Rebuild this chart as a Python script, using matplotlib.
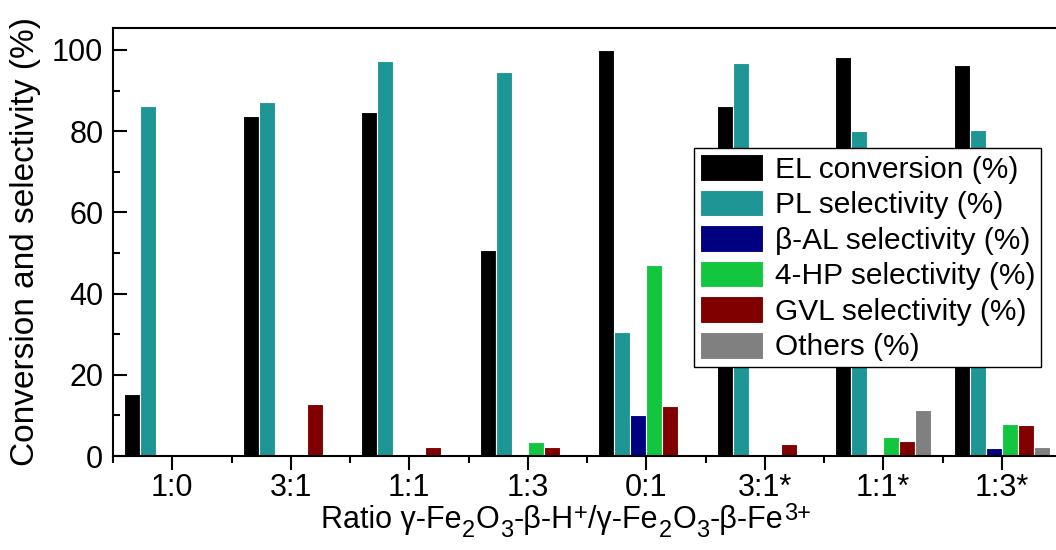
import matplotlib
matplotlib.use("Agg")
import matplotlib.pyplot as plt
import numpy as np
from matplotlib.ticker import MultipleLocator

plt.rcParams['font.family'] = ['Liberation Sans', 'DejaVu Sans']

categories = ["1:0", "3:1", "1:1", "1:3", "0:1", "3:1*", "1:1*", "1:3*"]
series_names = ["EL conversion (%)", "PL selectivity (%)", "β-AL selectivity (%)",
                "4-HP selectivity (%)", "GVL selectivity (%)", "Others (%)"]
el_conv = [15.3, 83.8, 84.8, 50.8, 100.0, 86.2, 98.2, 96.2]
pl_sel = [86.2, 87.2, 97.2, 94.6, 30.5, 96.8, 80.0, 80.4]
bal_sel = [0, 0, 0, 0, 10.0, 0, 0, 1.9]
hp_sel = [0, 0, 0.5, 3.4, 47.0, 0, 4.7, 7.8]
gvl_sel = [0, 12.9, 2.2, 2.1, 12.3, 3.0, 3.7, 7.6]
others = [0, 0, 0, 0, 0, 0, 11.3, 2.2]
colors = ["#000000", "#1e9696", "#000080", "#13c640", "#800000", "#808080"]

# x-axis title pieces: (text, kind) kind: n=normal, b=subscript, p=superscript
xlabel_parts = [("Ratio γ-Fe", "n"), ("2", "b"), ("O", "n"), ("3", "b"),
                ("-β-H", "n"), ("+", "p"), ("/γ-Fe", "n"), ("2", "b"),
                ("O", "n"), ("3", "b"), ("-β-Fe", "n"), ("3+", "p")]

data = [el_conv, pl_sel, bal_sel, hp_sel, gvl_sel, others]

W, H = 1056, 550
fig = plt.figure(figsize=(W / 100, H / 100), dpi=100)
ax = fig.add_axes([113 / W, 1 - 456 / H, (1061 - 113) / W, (456 - 28) / H])

x = np.arange(len(categories))
w = 0.135
for i, (vals, name, c) in enumerate(zip(data, series_names, colors)):
    ax.bar(x + (i - 2.5) * w, vals, width=w, color=c, edgecolor='white',
           linewidth=0.8, label=name)

ax.set_xlim(-0.5, 7.5)
ax.set_ylim(0, 105.4)
ax.set_xticks(x)
ax.set_xticklabels(categories)
ax.xaxis.set_minor_locator(MultipleLocator(0.5))
ax.yaxis.set_major_locator(MultipleLocator(20))
ax.yaxis.set_minor_locator(MultipleLocator(10))

ax.tick_params(axis='x', which='major', direction='out', length=10, width=1.5,
               labelsize=22, pad=2.5)
ax.tick_params(axis='x', which='minor', direction='out', length=5, width=1.5)
ax.tick_params(axis='y', which='major', direction='in', length=10, width=1.5,
               labelsize=22, pad=7)
ax.tick_params(axis='y', which='minor', direction='in', length=5, width=1.5)
for s in ['left', 'bottom', 'top']:
    ax.spines[s].set_linewidth(1.5)
ax.spines['right'].set_visible(False)

ax.set_ylabel("Conversion and selectivity (%)", fontsize=24, labelpad=8)

# x-axis title built piece by piece (large Origin-style sub/superscripts)
renderer = fig.canvas.get_renderer()
base_fs = 22
small_fs = 17
xpos = 321.0
baseline = 528.0
for txt, kind in xlabel_parts:
    if kind == "n":
        fs, dy = base_fs, 0
    elif kind == "b":
        fs, dy = small_fs, 9
    else:
        fs, dy = small_fs, -8
    t = fig.text(xpos / W, 1 - (baseline + dy) / H, txt, fontsize=fs,
                 ha='left', va='baseline')
    ext = t.get_window_extent(renderer)
    xpos += ext.width + 0.5

leg = ax.legend(loc='upper left', bbox_to_anchor=((694 - 113) / 948, 1 - (148 - 28) / 428),
                fontsize=21.5, frameon=True, fancybox=False, edgecolor='black',
                framealpha=1, handlelength=2.1, handleheight=1.0, labelspacing=0.2,
                handletextpad=0.4, borderpad=0.2, borderaxespad=0)
leg.get_frame().set_linewidth(1.0)

fig.savefig("out.png", dpi=100)
